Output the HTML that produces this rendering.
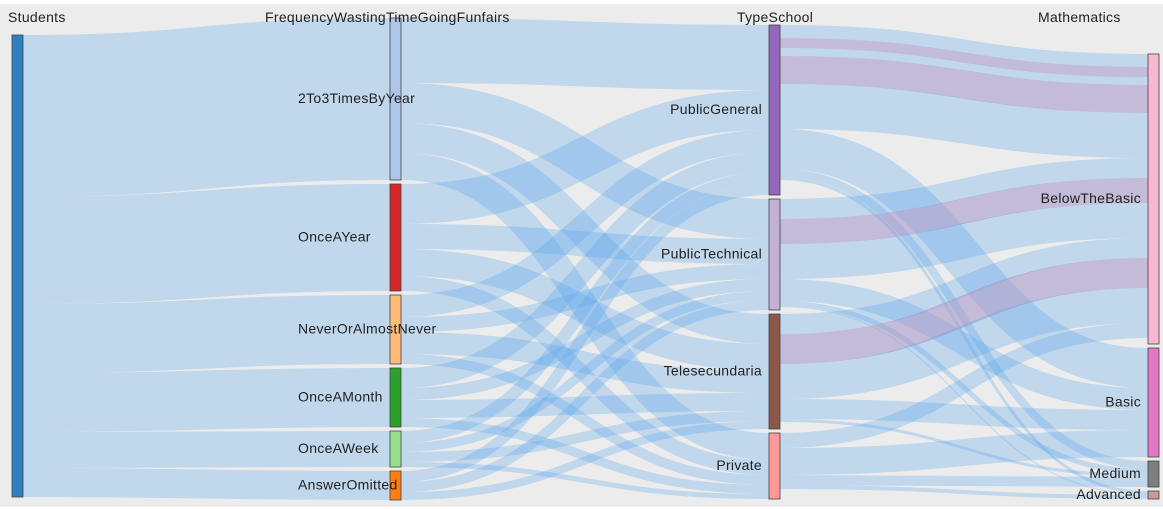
<!DOCTYPE html>
<html><head><meta charset="utf-8"><style>
html,body{margin:0;padding:0;background:#fff}
svg{display:block}
text{font-family:"Liberation Sans",Arial,sans-serif;font-size:14px;letter-spacing:0.3px;fill:#222}
</style></head><body>
<svg id="chart" width="1163" height="509" viewBox="0 0 1163 509">
<rect x="0" y="0" width="1163" height="509" fill="#fff"/>
<rect x="0" y="4" width="1163" height="503" fill="#ececec"/>
<g id="links"></g>
<g id="nodes"></g>
<text x="8" y="22">Students</text>
<text x="265" y="22">FrequencyWastingTimeGoingFunfairs</text>
<text x="737" y="22">TypeSchool</text>
<text x="1038" y="22">Mathematics</text>
</svg>
<script>
// Columns
const colX = [12, 390, 769, 1148];
const colTop = [35, 18, 25, 54];
const students = ["Students"];
const studentsVal = [462];
const freqNames = ["2To3TimesByYear","OnceAYear","NeverOrAlmostNever","OnceAMonth","OnceAWeek","AnswerOmitted"];
const freqVal = [162,107,69,59,36,29];
const typeNames = ["PublicGeneral","PublicTechnical","Telesecundaria","Private"];
const typeVal = [170,111,115,66];
const mathNames = ["BelowTheBasic","Basic","Medium","Advanced"];
const mathVal = [290,109,26,8];
const freqColors = ["#aec7e8","#d62728","#ffbb78","#2ca02c","#98df8a","#ff7f0e"];
const typeColors = ["#9467bd","#c5b0d5","#8c564b","#ff9896"];
const mathColors = ["#f7b6d2","#e377c2","#7f7f7f","#c49c94"];
// Freq -> Type matrix
const freqType = [
 [65,40,30,27],
 [40,25,27,15],
 [22,15,22,10],
 [20,12,18,9],
 [12,9,10,5],
 [11,10,8,0]
];
// Type -> Math links: source, target, value, purple flag
const tmSrc = [0,0,0,0,0,0,0,0, 1,1,1,1,1,1, 2,2,2,2,2, 3,3,3,3];
const tmTgt = [0,0,0,0,0,1,2,3, 0,0,0,1,2,3, 0,0,0,1,2, 0,1,2,3];
const tmVal = [13,10,8,28,45,40,8,3, 20,25,35,22,5,1, 20,30,35,20,3, 15,27,10,4];
const tmPur = [0,1,0,1,0,0,0,0, 0,1,0,0,0,0, 0,1,0,0,0, 0,0,0,0];

const NS="http://www.w3.org/2000/svg";
const gap=4, nodeW=11;
function layout(vals, top){let y=top;return vals.map(v=>{const r={y0:y,y1:y+v};y+=v+gap;return r;});}
const L=[layout(studentsVal,colTop[0]),layout(freqVal,colTop[1]),layout(typeVal,colTop[2]),layout(mathVal,colTop[3])];
const linksG=document.getElementById('links'), nodesG=document.getElementById('nodes');
function link(x0,y0,x1,y1,w,color,op){
  const p=document.createElementNS(NS,'path');
  const xm=(x0+x1)/2;
  p.setAttribute('d',`M${x0},${y0}C${xm},${y0} ${xm},${y1} ${x1},${y1}`);
  p.setAttribute('stroke',color);p.setAttribute('stroke-opacity',op);
  p.setAttribute('stroke-width',w);p.setAttribute('fill','none');
  
  
  linksG.appendChild(p);
}
const blue="#5aa5ec", bop=0.3;
// Students -> freq
let sy=L[0][0].y0;
freqVal.forEach((v,i)=>{link(colX[0]+nodeW,sy+v/2,colX[1],L[1][i].y0+v/2,v,blue,bop);sy+=v;});
// Freq -> Type
const outOff=L[1].map(n=>n.y0), inOff=L[2].map(n=>n.y0);
for(let i=0;i<freqNames.length;i++)for(let j=0;j<typeNames.length;j++){
  const v=freqType[i][j]; if(!v)continue;
  link(colX[1]+nodeW,outOff[i]+v/2,colX[2],inOff[j]+v/2,v,blue,bop);
  outOff[i]+=v;inOff[j]+=v;
}
// Type -> Math
const tOut=L[2].map(n=>n.y0), mIn=L[3].map(n=>n.y0);
tmVal.forEach((v,k)=>{
  const s=tmSrc[k],t=tmTgt[k];
  link(colX[2]+nodeW,tOut[s]+v/2,colX[3],mIn[t]+v/2,v,tmPur[k]?"#a394c8":blue,tmPur[k]?0.55:bop);
  tOut[s]+=v;mIn[t]+=v;
});
function nodes(ci,names,colors,labelFn){
  names.forEach((n,i)=>{
    const r=document.createElementNS(NS,'rect');
    r.setAttribute('x',colX[ci]);r.setAttribute('y',L[ci][i].y0);
    r.setAttribute('width',nodeW);r.setAttribute('height',L[ci][i].y1-L[ci][i].y0);
    r.setAttribute('fill',colors[i]);r.setAttribute('stroke','#444');r.setAttribute('stroke-width','0.8');
    
    
    nodesG.appendChild(r);
    if(labelFn){
      const t=document.createElementNS(NS,'text');
      labelFn(t,i);t.textContent=n;
      t.setAttribute('y',(L[ci][i].y0+L[ci][i].y1)/2+4);
      
      
      nodesG.appendChild(t);
    }
  });
}
nodes(0,students,["#2f7fc1"],null);
nodes(1,freqNames,freqColors,(t)=>{t.setAttribute('x',298);});
nodes(2,typeNames,typeColors,(t)=>{t.setAttribute('x',762);t.setAttribute('text-anchor','end');});
nodes(3,mathNames,mathColors,(t)=>{t.setAttribute('x',1141);t.setAttribute('text-anchor','end');});
</script>
</body></html>
